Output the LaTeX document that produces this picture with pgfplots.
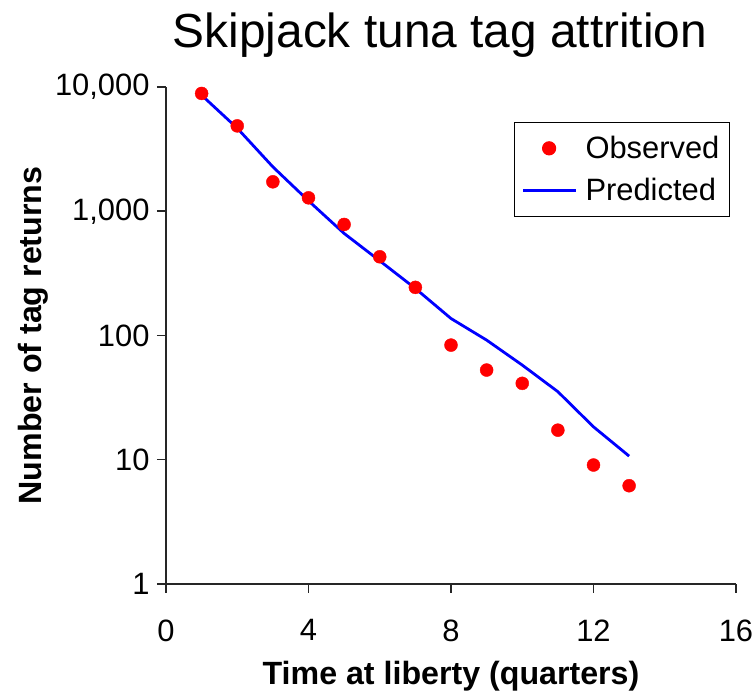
\documentclass[border=0pt]{standalone}
\usepackage{pgfplots}
\pgfplotsset{compat=1.18}
\usepackage{fontspec}
\setmainfont{Liberation Sans}
\definecolor{obsred}{RGB}{255,0,0}
\definecolor{predblue}{RGB}{0,0,255}
\pgfplotsset{
  obsleg/.style={legend image code/.code={\draw[##1] plot coordinates {(26bp,0bp)};}},
  predleg/.style={legend image code/.code={\draw[##1] (0bp,0bp) -- (53bp,0bp);}},
}
\begin{document}
\begin{tikzpicture}
\begin{axis}[name=ax, scale only axis, width=570bp, height=497bp,
  xmin=0, xmax=16, ymode=log, ymin=1, ymax=10000,
  axis lines=left, axis line style={-, line width=1.5bp, black!85},
  xtick={0,4,8,12,16}, xticklabels={0,4,8,12,16},
  ytick={1,10,100,1000,10000}, yticklabels={1,10,100,{1,000},{10,000}},
  yminorticks=false, xminorticks=false,
  tick align=outside, major tick length=9bp,
  tick style={line width=1.5bp, black!85},
  ticklabel style={font=\fontsize{31}{33}\selectfont},
  yticklabel style={anchor=east, xshift=-4bp},
  xticklabel style={anchor=north, yshift=-23bp},
  title={Skipjack tuna tag attrition},
  title style={font=\fontsize{48}{51}\selectfont, at={(0.5,1)}, anchor=base, yshift=34bp, xshift=-11bp},
  xlabel={Time at liberty (quarters)},
  xlabel style={font=\bfseries\fontsize{32.3}{34}\selectfont, at={(0.5,0)}, anchor=base, yshift=-100bp},
  ylabel={Number of tag returns},
  ylabel style={font=\bfseries\fontsize{32.3}{34}\selectfont, at={([xshift=-124bp]axis description cs:0,0.5)}, anchor=base},
  legend style={at={(0.9895,0.93)}, anchor=north east, draw=black, line width=1.2bp,
    font=\fontsize{31}{33}\selectfont, inner xsep=7bp, inner ysep=11bp, row sep=12bp, column sep=5bp,
    nodes={inner xsep=3bp, inner ysep=3bp}},
  legend cell align=left,
  clip=false,
]
\addplot[only marks, mark=*, mark size=6.5bp, color=obsred, obsleg]
  coordinates {
  (1,8870) (2,4865) (3,1725) (4,1282) (5,783) (6,430) (7,244)
  (8,83.7) (9,52.7) (10,41.2) (11,17.3) (12,9.07) (13,6.18)
};
\addlegendentry{Observed}
\addplot[predblue, line width=2.8bp, mark=none, predleg]
  coordinates {
  (1,8590) (2,4660) (3,2276) (4,1213) (5,663) (6,399) (7,239)
  (8,137) (9,91.8) (10,57.8) (11,35.3) (12,18.4) (13,10.7)
};
\addlegendentry{Predicted}
\end{axis}
\pgfresetboundingbox
\path ([shift={(-166bp,-110bp)}]ax.south west) rectangle ([shift={(17bp,87bp)}]ax.north east);
\end{tikzpicture}
\end{document}
